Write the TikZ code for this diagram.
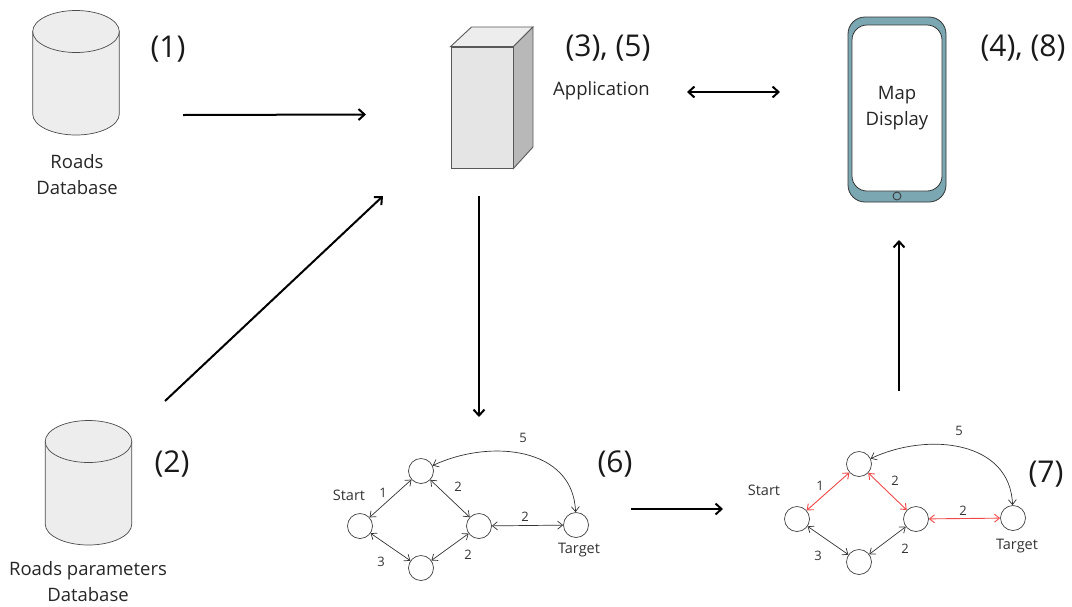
\documentclass[tikz,border=0pt]{standalone}
\usepackage{fontspec}
\setmainfont{Open Sans}
\usetikzlibrary{arrows.meta}

\definecolor{dbfill}{HTML}{EDEDED}
\definecolor{phonefill}{HTML}{7BA7B3}
\definecolor{edgered}{HTML}{F04848}

\tikzset{
  bigarrow/.style={-{Straight Barb[length=6pt,width=11pt]}, line width=2pt},
  dbline/.style={draw=black!70, line width=0.7pt, fill=dbfill},
  database/.pic={
    \draw[dbline] (-43.3,-41) -- (-43.3,41.5) arc[start angle=180, end angle=0, x radius=43.3, y radius=21] -- (43.3,-41) -- cycle;
    \draw[dbline] (0,-41) ellipse[x radius=43.3, y radius=21];
  },
  roadnode/.style={circle, draw=black!75, line width=0.7pt, minimum size=25pt, inner sep=0pt},
  roadedge/.style={{Straight Barb[length=5pt,width=8pt]}-{Straight Barb[length=5pt,width=8pt]}, draw=black!80, line width=0.7pt},
  rededge/.style={roadedge, draw=edgered, line width=0.9pt},
  weight/.style={font=\fontsize{13}{15}\selectfont, text=black!80, inner sep=0pt},
  smalltxt/.style={font=\fontsize{14.5}{16}\selectfont, text=black!80, inner sep=0pt},
  caption/.style={font=\fontsize{18.5}{26}\selectfont, text=black!85, align=center, inner sep=0pt},
  stepnum/.style={font=\fontsize{30}{34}\selectfont, text=black!90, inner sep=0pt},
}

\begin{document}
\begin{tikzpicture}[x=1pt, y=-1pt]
\useasboundingbox (0,0) rectangle (1072,606);

% databases
\pic (roads) at (76,72.5) {database};
\node[caption] (roadstxt) at (77,174.5) {Roads\\Database};
\node[stepnum] (one) at (168,49.5) {(1)};

\pic (params) at (88.5,482.5) {database};
\node[caption] (paramstxt) at (88,581.5) {Roads parameters\\Database};
\node[stepnum] (two) at (172,464) {(2)};

% application box
\node[rectangle, draw=black!65, line width=0.9pt, fill=black!10, minimum width=62pt, minimum height=121pt, inner sep=0pt] (app) at (482,107.5) {};
\coordinate (appback) at (533,27);
\coordinate (appbase) at (533,147);
\coordinate (appleft) at (471.5,27);
\draw[draw=black!65, line width=0.9pt, fill=black!7] (app.north west) -- (appleft) -- (appback) -- (app.north east) -- cycle;
\draw[draw=black!65, line width=0.9pt, fill=black!28] (app.north east) -- (appback) -- (appbase) -- (app.south east) -- cycle;
\node[stepnum] (three) at (608,48.5) {(3), (5)};
\node[caption] (apptxt) at (601.5,91) {Application};

% phone
\node[rectangle, rounded corners=17pt, draw=black!80, line width=0.8pt, fill=phonefill, minimum width=98pt, minimum height=185pt] (phone) at (897,109.5) {};
\node[rectangle, rounded corners=15pt, draw=black!80, line width=0.8pt, fill=white, minimum width=90pt, minimum height=166pt, caption] (screen) at (897,108) {Map\\Display};
\node[circle, draw=black!80, line width=0.8pt, fill=phonefill, minimum size=8pt, inner sep=0pt] (button) at (897,196) {};
\node[stepnum] (four) at (1023,48.5) {(4), (8)};

% free ends of the big arrows
\coordinate (a1) at (183,115);
\coordinate (a2) at (366,114.5);
\coordinate (b1) at (165,401);
\coordinate (b2) at (383,196);
\coordinate (c1) at (479,196);
\coordinate (c2) at (479,417);
\coordinate (d1) at (687,92);
\coordinate (d2) at (780,92);
\coordinate (e1) at (631,509);
\coordinate (e2) at (723,509);
\coordinate (f1) at (899,391);
\coordinate (f2) at (899,240);

\draw[bigarrow] (a1) -- (a2);
\draw[bigarrow] (b1) -- (b2);
\draw[bigarrow] (c1) -- (c2);
\draw[bigarrow, {Straight Barb[length=6pt,width=11pt]}-{Straight Barb[length=6pt,width=11pt]}] (d1) -- (d2);
\draw[bigarrow] (e1) -- (e2);
\draw[bigarrow] (f1) -- (f2);

% first graph
\node[roadnode] (start) at (360,526) {};
\node[roadnode] (top) at (421,471) {};
\node[roadnode] (right) at (479,526) {};
\node[roadnode] (bottom) at (421,568) {};
\node[roadnode] (target) at (576,525) {};
\draw[roadedge] (start) -- (top);
\draw[roadedge] (top) -- (right);
\draw[roadedge] (start) -- (bottom);
\draw[roadedge] (bottom) -- (right);
\draw[roadedge] (right) -- (target);
\draw[roadedge] (target) to[out=92, in=25, looseness=1.1] (top);
\node[smalltxt] (startlbl) at (349,495.5) {Start};
\node[smalltxt] (targetlbl) at (579,550.5) {Target};
\node[weight] (w1) at (383,493) {1};
\node[weight] (w2) at (458,487) {2};
\node[weight] (w3) at (381,562) {3};
\node[weight] (w4) at (468,555) {2};
\node[weight] (w5) at (525,517) {2};
\node[weight] (w6) at (523,438) {5};
\node[stepnum] (six) at (615,464) {(6)};

% second graph, with the path in red
\node[roadnode] (startb) at (797,519) {};
\node[roadnode] (topb) at (859,464) {};
\node[roadnode] (rightb) at (916,519) {};
\node[roadnode] (bottomb) at (859,562) {};
\node[roadnode] (targetb) at (1013,518) {};
\draw[rededge] (startb) -- (topb);
\draw[rededge] (topb) -- (rightb);
\draw[roadedge] (startb) -- (bottomb);
\draw[roadedge] (bottomb) -- (rightb);
\draw[rededge] (rightb) -- (targetb);
\draw[roadedge] (targetb) to[out=92, in=25, looseness=1.1] (topb);
\node[smalltxt] (startblbl) at (764,490.5) {Start};
\node[smalltxt] (targetblbl) at (1017,546.5) {Target};
\node[weight] (x1) at (820,486) {1};
\node[weight] (x2) at (895,481) {2};
\node[weight] (x3) at (818,556) {3};
\node[weight] (x4) at (905,549) {2};
\node[weight] (x5) at (963,511) {2};
\node[weight] (x6) at (959,431) {5};
\node[stepnum] (seven) at (1046,474) {(7)};
\end{tikzpicture}
\end{document}
